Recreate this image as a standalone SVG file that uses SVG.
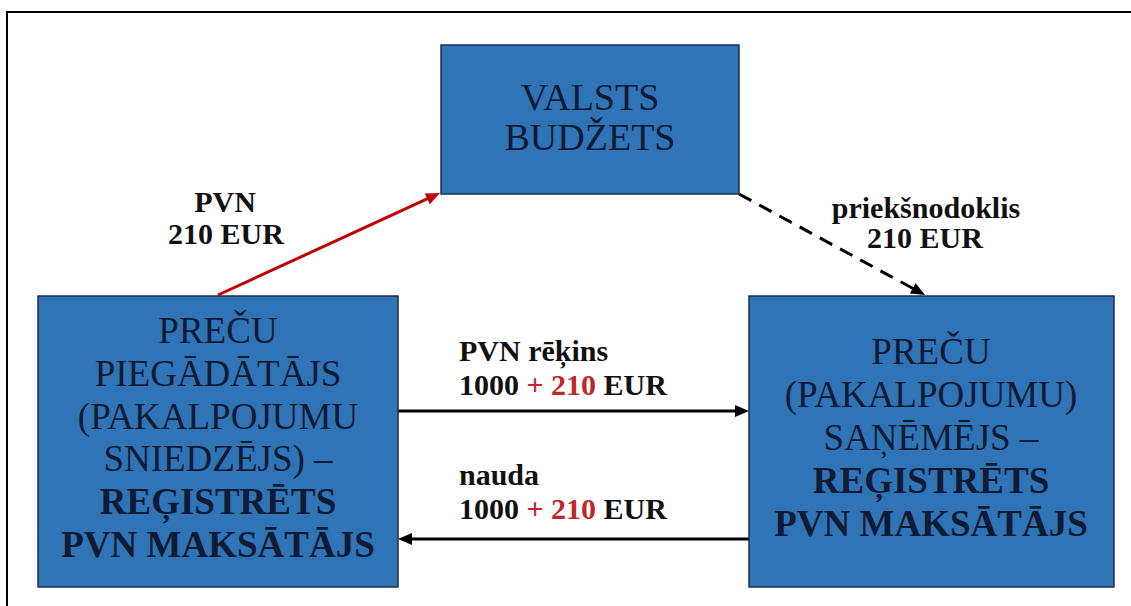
<svg xmlns="http://www.w3.org/2000/svg" width="1131" height="606" viewBox="0 0 1131 606">
  <style>
    .node rect { fill: #2f74b7; stroke: #1a2f4f; stroke-width: 1.5; }
    .nt { font-size: 37px; fill: #0f1a33; text-anchor: middle; }
    .b { font-weight: bold; }
    .lbl { font-size: 30px; font-weight: bold; fill: #111111; }
    .red { fill: #c0272d; }
    .conn { fill: none; stroke-width: 3; }
  </style>
  <defs>
    <marker id="ahBlack" markerUnits="userSpaceOnUse" markerWidth="14" markerHeight="12" refX="4" refY="6" orient="auto">
      <path d="M0,0 L14,6 L0,12 z" fill="#000000"/>
    </marker>
    <marker id="ahRed" markerUnits="userSpaceOnUse" markerWidth="14" markerHeight="12" refX="4" refY="6" orient="auto">
      <path d="M0,0 L14,6 L0,12 z" fill="#c00000"/>
    </marker>
  </defs>
  <rect x="0" y="0" width="1131" height="606" fill="#ffffff"/>
  <rect x="7" y="12" width="1140" height="620" fill="none" stroke="#000000" stroke-width="2"/>

  <g font-family="'Liberation Serif', 'DejaVu Serif', 'Times New Roman', serif">
  <g id="connectors">
    <line class="conn" x1="218" y1="295" x2="430.9" y2="197.2" stroke="#c00000" marker-end="url(#ahRed)"/>
    <line class="conn" x1="739" y1="194" x2="916.2" y2="290.2" stroke="#000000" stroke-dasharray="14 9" marker-end="url(#ahBlack)"/>
    <line class="conn" x1="398" y1="411" x2="739" y2="411" stroke="#000000" marker-end="url(#ahBlack)"/>
    <line class="conn" x1="749" y1="539" x2="408" y2="539" stroke="#000000" marker-end="url(#ahBlack)"/>
    <text class="lbl" x="225" y="212" text-anchor="middle">PVN</text>
    <text class="lbl" x="226" y="244" text-anchor="middle">210 EUR</text>
    <text class="lbl" x="926" y="218" text-anchor="middle">priekšnodoklis</text>
    <text class="lbl" x="925" y="248" text-anchor="middle">210 EUR</text>
    <text class="lbl" x="459" y="361">PVN rēķins</text>
    <text class="lbl" x="459" y="395">1000 <tspan class="red">+ 210</tspan> EUR</text>
    <text class="lbl" x="459" y="485">nauda</text>
    <text class="lbl" x="459" y="519">1000 <tspan class="red">+ 210</tspan> EUR</text>
  </g>

  <g id="node-budzets" class="node">
    <rect x="441" y="45" width="298" height="149"/>
    <text class="nt" x="590" y="110" style="font-size:38px">VALSTS</text>
    <text class="nt" x="590" y="150" style="font-size:38px">BUDŽETS</text>
  </g>

  <g id="node-piegadatajs" class="node">
    <rect x="38" y="296" width="360" height="291"/>
    <text class="nt" x="218" y="343">PREČU</text>
    <text class="nt" x="218" y="386">PIEGĀDĀTĀJS</text>
    <text class="nt" x="218" y="429">(PAKALPOJUMU</text>
    <text class="nt" x="218" y="471">SNIEDZĒJS) –</text>
    <text class="nt b" x="218" y="514">REĢISTRĒTS</text>
    <text class="nt b" x="218" y="557">PVN MAKSĀTĀJS</text>
  </g>

  <g id="node-sanemejs" class="node">
    <rect x="749" y="296" width="365" height="291"/>
    <text class="nt" x="931" y="364">PREČU</text>
    <text class="nt" x="931" y="407">(PAKALPOJUMU)</text>
    <text class="nt" x="931" y="450">SAŅĒMĒJS –</text>
    <text class="nt b" x="931" y="493">REĢISTRĒTS</text>
    <text class="nt b" x="931" y="536">PVN MAKSĀTĀJS</text>
  </g>
  </g>
</svg>
